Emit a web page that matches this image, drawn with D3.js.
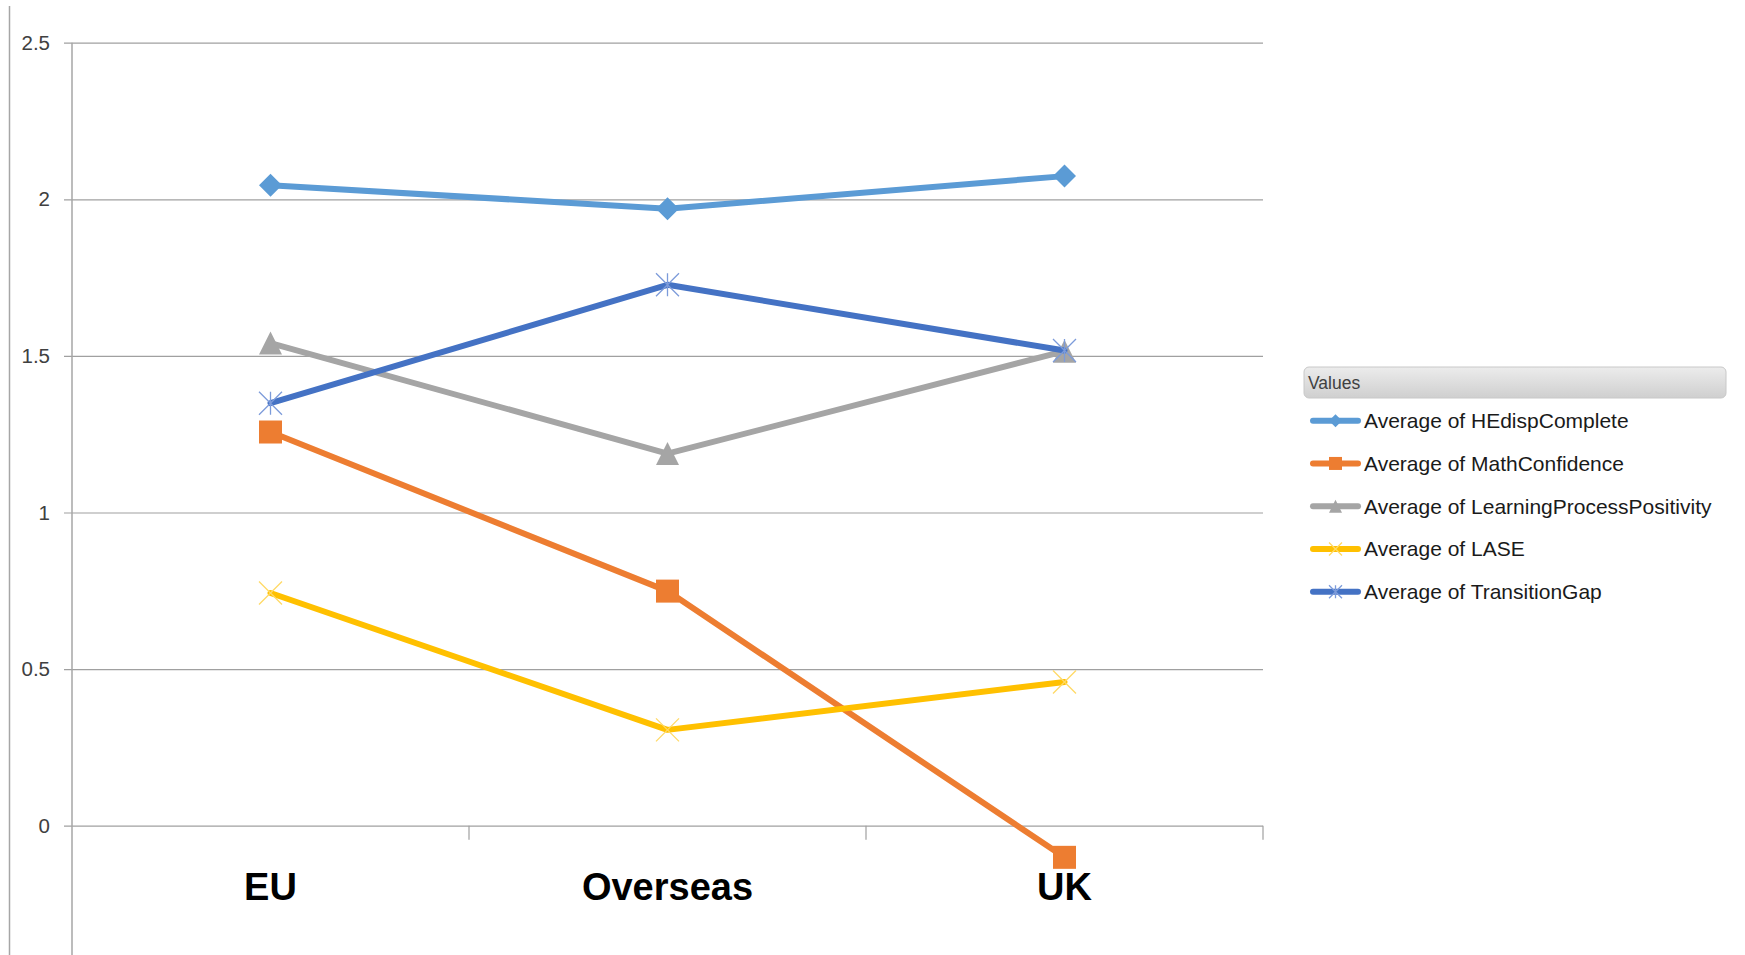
<!DOCTYPE html>
<html>
<head>
<meta charset="utf-8">
<script src="https://cdn.jsdelivr.net/npm/d3@7"></script>
<style>
  html, body { margin: 0; padding: 0; background: #ffffff; }
  svg { display: block; }
</style>
</head>
<body>
<svg id="chart" width="1745" height="955"></svg>
<script>
// Categories along the x axis
const categories = ["EU", "Overseas", "UK"];

// Series values per category (EU, Overseas, UK)
const heDispComplete = [2.045, 1.970, 2.074];
const mathConfidence = [1.257, 0.749, -0.101];
const learningProcessPositivity = [1.541, 1.188, 1.515];
const lase = [0.743, 0.306, 0.459];
const transitionGap = [1.349, 1.727, 1.517];

const seriesNames = [
  "Average of HEdispComplete",
  "Average of MathConfidence",
  "Average of LearningProcessPositivity",
  "Average of LASE",
  "Average of TransitionGap"
];

// Y axis tick labels
const yTicks = [0, 0.5, 1, 1.5, 2, 2.5];
const legendTitle = "Values";

const series = [
  { name: seriesNames[0], values: heDispComplete, color: "#5B9BD5", marker: "diamond" },
  { name: seriesNames[1], values: mathConfidence, color: "#ED7D31", marker: "square" },
  { name: seriesNames[2], values: learningProcessPositivity, color: "#A5A5A5", marker: "triangle" },
  { name: seriesNames[3], values: lase, color: "#FFC000", marker: "x" },
  { name: seriesNames[4], values: transitionGap, color: "#4472C4", marker: "star" }
];

const svg = d3.select("#chart");
const W = 1745, H = 955;

const plotLeft = 72, plotRight = 1263;
const x = d3.scaleBand().domain(categories).range([plotLeft, plotRight]).padding(0);
const y = d3.scaleLinear().domain([0, 2.5]).range([825.7, 42.7]);
const cx = d => x(d) + x.bandwidth() / 2;

// Outer frame edge on the left
svg.append("line")
  .attr("x1", 9.5).attr("x2", 9.5).attr("y1", 6).attr("y2", H)
  .attr("stroke", "#a6a6a6").attr("stroke-width", 1.5);

// Horizontal gridlines with value labels
const yAxis = d3.axisLeft(y)
  .tickValues(yTicks)
  .tickFormat(d3.format("~g"))
  .tickSizeInner(-(plotRight - 64))
  .tickSizeOuter(0)
  .tickPadding(14);

const gy = svg.append("g").attr("transform", "translate(64,0)").call(yAxis);
gy.select(".domain").remove();
gy.selectAll(".tick line").attr("stroke", "#a0a0a0").attr("stroke-width", 1.2);
gy.selectAll(".tick text")
  .attr("font-family", "'Liberation Sans', Arial, sans-serif")
  .attr("font-size", 20.5)
  .attr("fill", "#404040");

// Vertical value axis line
svg.append("line")
  .attr("x1", plotLeft).attr("x2", plotLeft)
  .attr("y1", y(2.5)).attr("y2", H)
  .attr("stroke", "#a6a6a6").attr("stroke-width", 1.5);

// Category axis: labels under each band
const xAxis = d3.axisBottom(x).tickSize(0).tickPadding(0);
const gx = svg.append("g").attr("transform", `translate(0,${y(0)})`).call(xAxis);
gx.select(".domain").remove();
gx.selectAll(".tick text")
  .attr("font-family", "'Liberation Sans', Arial, sans-serif")
  .attr("font-weight", "bold")
  .attr("font-size", 38)
  .attr("fill", "#000000")
  .attr("dy", null)
  .attr("y", 74);

// Tick marks at band boundaries
const boundaries = categories.slice(1).map(c => x(c)).concat([plotRight]);
svg.selectAll(".bound-tick").data(boundaries).enter().append("line")
  .attr("class", "bound-tick")
  .attr("x1", d => d).attr("x2", d => d)
  .attr("y1", y(0)).attr("y2", y(0) + 14)
  .attr("stroke", "#a0a0a0").attr("stroke-width", 1.2);

// Marker drawing
function drawMarker(g, type, color, size) {
  const s = size / 2;
  if (type === "diamond") {
    g.append("path").attr("d", `M0,${-s}L${s},0L0,${s}L${-s},0Z`).attr("fill", color);
  } else if (type === "square") {
    g.append("rect").attr("x", -s).attr("y", -s).attr("width", size).attr("height", size).attr("fill", color);
  } else if (type === "triangle") {
    g.append("path").attr("d", `M0,${-s}L${s},${s}L${-s},${s}Z`).attr("fill", color);
  } else if (type === "x") {
    g.append("path").attr("d", `M${-s},${-s}L${s},${s}M${s},${-s}L${-s},${s}`)
      .attr("stroke", "#FFD966").attr("stroke-width", 1.3).attr("fill", "none");
  } else if (type === "star") {
    g.append("path").attr("d", `M${-s},${-s}L${s},${s}M${s},${-s}L${-s},${s}M0,${-s}L0,${s}`)
      .attr("stroke", "#7C9BDA").attr("stroke-width", 1.3).attr("fill", "none");
  }
}

const line = d3.line().x(d => cx(d.cat)).y(d => y(d.v));

series.forEach(s => {
  const pts = categories.map((c, i) => ({ cat: c, v: s.values[i] }));
  const g = svg.append("g");
  g.append("path")
    .attr("d", line(pts))
    .attr("fill", "none")
    .attr("stroke", s.color)
    .attr("stroke-width", 6)
    .attr("stroke-linejoin", "round")
    .attr("stroke-linecap", "round");
  pts.forEach(p => {
    const mg = g.append("g").attr("transform", `translate(${cx(p.cat)},${y(p.v)})`);
    drawMarker(mg, s.marker, s.color, 23);
  });
});

// Legend
const legend = svg.append("g");
const defs = svg.append("defs");
const grad = defs.append("linearGradient").attr("id", "hdrGrad")
  .attr("x1", 0).attr("y1", 0).attr("x2", 0).attr("y2", 1);
grad.append("stop").attr("offset", "0%").attr("stop-color", "#ececec");
grad.append("stop").attr("offset", "100%").attr("stop-color", "#cfcfcf");

legend.append("rect")
  .attr("x", 1304).attr("y", 367).attr("width", 422).attr("height", 31)
  .attr("rx", 5).attr("ry", 5)
  .attr("fill", "url(#hdrGrad)").attr("stroke", "#c8c8c8").attr("stroke-width", 1);
legend.append("text")
  .attr("x", 1308).attr("y", 389)
  .attr("font-family", "'Liberation Sans', Arial, sans-serif")
  .attr("font-size", 17.5)
  .attr("fill", "#404040")
  .text(legendTitle);

const legendY = d3.scalePoint().domain(seriesNames).range([420.7, 591.7]);
series.forEach(s => {
  const ly = legendY(s.name);
  const item = legend.append("g");
  item.append("line")
    .attr("x1", 1313).attr("x2", 1358).attr("y1", ly).attr("y2", ly)
    .attr("stroke", s.color).attr("stroke-width", 6).attr("stroke-linecap", "round");
  const mg = item.append("g").attr("transform", `translate(1335.5,${ly})`);
  drawMarker(mg, s.marker, s.color, 13);
  item.append("text")
    .attr("x", 1364).attr("y", ly + 7.5)
    .attr("font-family", "'Liberation Sans', Arial, sans-serif")
    .attr("font-size", 21)
    .attr("fill", "#1a1a1a")
    .text(s.name);
});
</script>
</body>
</html>
